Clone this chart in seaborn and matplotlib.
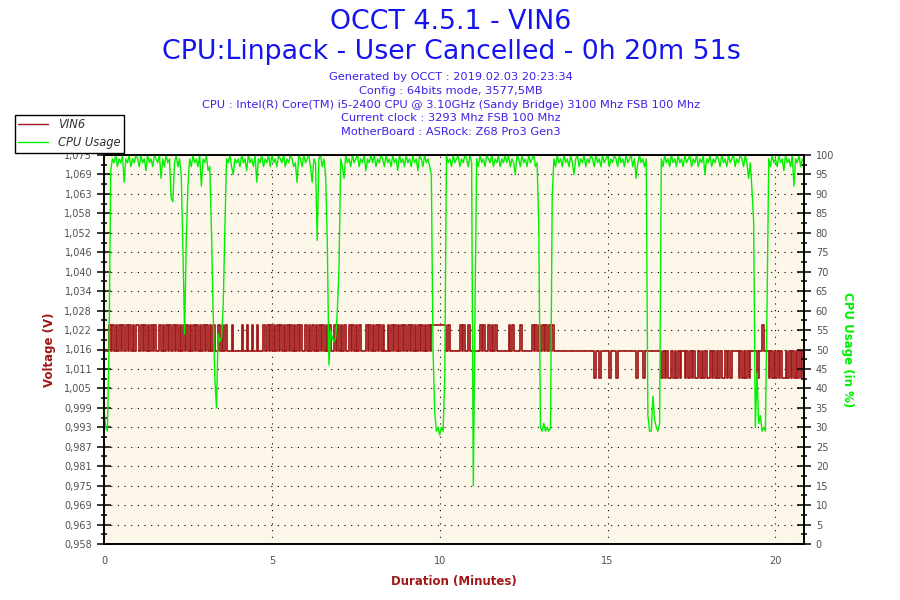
import matplotlib
matplotlib.use("Agg")
import matplotlib.pyplot as plt
from matplotlib.lines import Line2D
import seaborn as sns
import numpy as np
import pandas as pd

# sampling step of the log (minutes)
step_min = 0.05

# VIN6 samples, one char per 0.05 min, one row per minute: 0=1.008 V, 1=1.016 V, 2=1.024 V
vin6_rows = [
    "11121212121212121212",
    "21212121212112121212",
    "12121212121212121212",
    "12121211212121112111",
    "11211211211211121212",
    "12121212121212121211",
    "21212121212121211212",
    "12121121212121112121",
    "21212121121212121212",
    "12121212121212122222",
    "22221211111121211211",
    "11112121121212111111",
    "12121111211111121212",
    "12121212111111111111",
    "11111111111101101111",
    "10111011111111111011",
    "10111111111101010010",
    "10101101010100101010",
    "01010101001010111101",
    "01010111101121110101",
    "010100101010101010",
]
vin6_levels = {"0": 1.008, "1": 1.016, "2": 1.024}

# CPU usage (%) samples, one row per minute
cpu_rows = [
    [35, 30, 29, 50, 96, 99, 98, 100, 97, 99, 98, 100, 93, 99, 98, 100, 97, 99, 98, 100],
    [99, 97, 100, 98, 99, 96, 100, 98, 99, 97, 100, 99, 98, 100, 94, 99, 97, 100, 98, 99],
    [89, 88, 98, 100, 97, 99, 95, 76, 54, 78, 92, 99, 97, 100, 98, 99, 97, 100, 92, 99],
    [98, 100, 96, 97, 81, 60, 43, 35, 54, 52, 53, 61, 81, 99, 98, 100, 97, 95, 99, 98],
    [99, 97, 100, 98, 99, 96, 100, 98, 99, 97, 100, 93, 99, 98, 100, 97, 99, 98, 100, 97],
    [100, 98, 99, 97, 100, 99, 98, 100, 97, 99, 98, 100, 99, 97, 98, 93, 100, 99, 97, 100],
    [98, 99, 100, 97, 93, 99, 98, 78, 99, 100, 97, 99, 95, 78, 46, 55, 53, 52, 53, 60],
    [71, 99, 97, 94, 100, 98, 99, 97, 100, 98, 99, 100, 97, 99, 98, 100, 96, 99, 98, 100],
    [98, 100, 97, 99, 98, 100, 99, 97, 100, 98, 99, 97, 100, 98, 99, 96, 100, 98, 99, 97],
    [100, 98, 99, 97, 100, 98, 99, 96, 100, 99, 97, 100, 98, 99, 97, 95, 50, 34, 29, 30],
    [28, 30, 29, 43, 100, 98, 99, 97, 100, 98, 99, 100, 97, 99, 98, 100, 99, 97, 100, 98],
    [15, 60, 99, 97, 100, 98, 99, 97, 100, 99, 98, 100, 97, 99, 98, 100, 97, 99, 98, 100],
    [98, 100, 97, 99, 98, 95, 100, 99, 97, 100, 98, 99, 97, 100, 98, 99, 100, 97, 98, 82],
    [30, 29, 31, 29, 30, 29, 30, 89, 99, 97, 100, 98, 99, 97, 100, 98, 99, 97, 100, 98],
    [95, 99, 100, 97, 99, 98, 100, 97, 99, 98, 100, 99, 97, 100, 98, 99, 97, 100, 98, 99],
    [100, 97, 99, 98, 100, 99, 97, 100, 98, 99, 97, 100, 98, 99, 100, 97, 99, 94, 98, 100],
    [98, 99, 97, 99, 33, 29, 29, 38, 32, 30, 29, 31, 99, 97, 100, 98, 99, 97, 100, 98],
    [99, 97, 100, 98, 99, 97, 100, 98, 99, 100, 97, 99, 98, 100, 97, 99, 98, 100, 95, 99],
    [98, 100, 97, 99, 98, 100, 99, 97, 100, 98, 99, 97, 100, 98, 99, 100, 97, 99, 98, 100],
    [99, 97, 100, 98, 94, 98, 91, 83, 30, 44, 31, 33, 29, 30, 29, 62, 99, 97, 100, 98],
    [99, 97, 100, 98, 99, 96, 100, 98, 99, 97, 100, 92, 99, 98, 100, 97, 99, 98],
]

volt_ticklabels = ["0,958", "0,963", "0,969", "0,975", "0,981", "0,987", "0,993",
                   "0,999", "1,005", "1,011", "1,016", "1,022", "1,028", "1,034",
                   "1,040", "1,046", "1,052", "1,058", "1,063", "1,069", "1,075"]
cpu_ticks = list(range(0, 101, 5))

title_lines = ["OCCT 4.5.1 - VIN6", "CPU:Linpack - User Cancelled - 0h 20m 51s"]
info_lines = [
    "Generated by OCCT : 2019.02.03 20:23:34",
    "Config : 64bits mode, 3577,5MB",
    "CPU : Intel(R) Core(TM) i5-2400 CPU @ 3.10GHz (Sandy Bridge) 3100 Mhz FSB 100 Mhz",
    "Current clock : 3293 Mhz FSB 100 Mhz",
    "MotherBoard : ASRock: Z68 Pro3 Gen3",
]

vin6 = [vin6_levels[c] for row in vin6_rows for c in row]
cpu = [v for row in cpu_rows for v in row]
df_v = pd.DataFrame({"t": np.arange(len(vin6)) * step_min, "v": vin6})
df_c = pd.DataFrame({"t": np.arange(len(cpu)) * step_min, "cpu": cpu})

red = "#A01818"
green = "#00F000"
blue = "#1414F0"
tick_grey = "#505050"

sns.set_style("white")
plt.rcParams["font.family"] = ["DejaVu Sans"]

fig = plt.figure(figsize=(9, 6), dpi=100)
ax = fig.add_axes([104 / 900, 56 / 600, 700 / 900, 389 / 600])
ax.set_facecolor("#FDF7E9")

sns.lineplot(data=df_v, x="t", y="v", ax=ax, color=red, lw=1.25,
             drawstyle="steps-post", estimator=None, legend=False)
ax.set_xlim(0, 20.85)
ax.set_ylim(0.958, 1.075)
vt = np.linspace(0.958, 1.075, 21)
ax.set_yticks(vt)
ax.set_yticklabels(volt_ticklabels)
ax.set_yticks((vt[:-1] + vt[1:]) / 2, minor=True)
ax.set_xticks([0, 5, 10, 15, 20])
ax.set_xticks(range(0, 21), minor=True)
ax.grid(True, which="major", color="black", lw=0.8, linestyle=(0, (1, 5)))
ax.set_xlabel("Duration (Minutes)", color=red, fontsize=8.5, fontweight="bold", labelpad=6)
ax.set_ylabel("Voltage (V)", color=red, fontsize=8.5, fontweight="bold", labelpad=6)

ax2 = ax.twinx()
sns.lineplot(data=df_c, x="t", y="cpu", ax=ax2, color=green, lw=1.0,
             estimator=None, legend=False)
ax2.set_ylim(0, 100)
ax2.set_yticks(cpu_ticks)
ax2.set_yticks(np.arange(2.5, 100, 5), minor=True)
ax2.set_ylabel("CPU Usage (in %)", color=green, fontsize=8.5, fontweight="bold",
               rotation=270, labelpad=14)

for a in (ax, ax2):
    for s in a.spines.values():
        s.set_color("black")
        s.set_linewidth(1.2)
    a.tick_params(which="major", direction="inout", length=10, width=1.1,
                  color="black", labelsize=7, labelcolor=tick_grey)
    a.tick_params(which="minor", direction="inout", length=5, width=1.1, color="black")
ax.tick_params(axis="x", which="major", pad=4)

fig.text(0.501, 1 - 22 / 600, title_lines[0], ha="center", va="center", color=blue, fontsize=19.3)
fig.text(0.501, 1 - 52 / 600, title_lines[1], ha="center", va="center", color=blue, fontsize=19.3)
for i, line in enumerate(info_lines):
    fig.text(0.501, (600 - 77 - i * 13.8) / 600, line, ha="center", va="center",
             color="#3A22E6", fontsize=8.2)

handles = [Line2D([], [], color=red, lw=1.0), Line2D([], [], color=green, lw=1.0)]
leg = fig.legend(handles, ["VIN6", "CPU Usage"], loc="upper left",
                 bbox_to_anchor=(15 / 900, 1 - 115 / 600), frameon=True, fancybox=False,
                 edgecolor="black", framealpha=1, borderpad=0.3, borderaxespad=0,
                 handlelength=2.6, handletextpad=0.8, labelspacing=0.4,
                 prop={"size": 8.3, "style": "italic"})
leg.get_frame().set_linewidth(1.0)
for txt in leg.get_texts():
    txt.set_color("#303030")

fig.savefig("out.png", dpi=100, facecolor="white")
